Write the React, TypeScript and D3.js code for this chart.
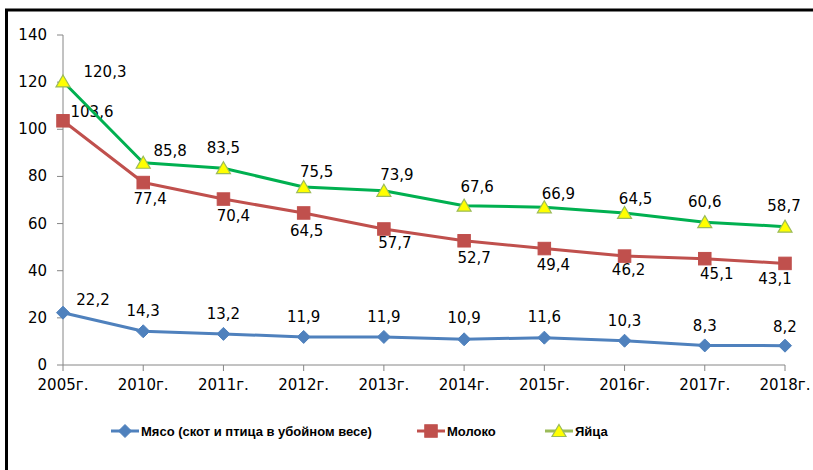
import React from "react";
import * as d3 from "d3";

const categories = ["2005г.", "2010г.", "2011г.", "2012г.", "2013г.", "2014г.", "2015г.", "2016г.", "2017г.", "2018г."];
const meat = [22.2, 14.3, 13.2, 11.9, 11.9, 10.9, 11.6, 10.3, 8.3, 8.2];
const milk = [103.6, 77.4, 70.4, 64.5, 57.7, 52.7, 49.4, 46.2, 45.1, 43.1];
const eggs = [120.3, 85.8, 83.5, 75.5, 73.9, 67.6, 66.9, 64.5, 60.6, 58.7];
const yTicks = [0, 20, 40, 60, 80, 100, 120, 140];
const seriesNames = ["Мясо (скот и птица в убойном весе)", "Молоко", "Яйца"];

// label placement offsets (px) relative to the point
const meatLabelOff: [number, number][] = [[30, -13], [0, -20], [0, -20], [0, -20], [0, -20], [0, -21], [0, -21], [0, -20], [0, -19], [0, -19]];
const milkLabelOff: [number, number][] = [[29, -9], [7, 16], [10, 17], [3, 18], [11, 14], [10, 17], [9, 16], [4, 14], [12, 15], [-10, 16]];
const eggLabelOff: [number, number][] = [[42, -9], [27, -12], [0, -20], [13, -15], [13, -16], [13, -19], [14, -13], [11, -14], [0, -20], [-1, -21]];

const fmt = (v: number) => v.toFixed(1).replace(".", ",");
const FONT = "DejaVu Sans, Verdana, sans-serif";

function Marker({ kind, x, y }: { kind: string; x: number; y: number }) {
  if (kind === "diamond") {
    const r = 6.5;
    return <path d={`M${x},${y - r}L${x + r},${y}L${x},${y + r}L${x - r},${y}Z`} fill="#4F81BD" stroke="#4F81BD" strokeWidth={1} />;
  }
  if (kind === "square") {
    const s = 12.5;
    return <rect x={x - s / 2} y={y - s / 2} width={s} height={s} fill="#C0504D" stroke="#C0504D" strokeWidth={1} />;
  }
  const w = 7, h = 6.5;
  return <path d={`M${x},${y - h}L${x + w},${y + h - 1}L${x - w},${y + h - 1}Z`} fill="#FFFF00" stroke="#9BBB59" strokeWidth={1.2} />;
}

export default function App() {
  const x = d3.scalePoint<string>().domain(categories).range([63, 785]);
  const y = d3.scaleLinear().domain([0, 140]).range([365, 35]);
  const line = d3.line<number>().x((_, i) => x(categories[i])!).y((d) => y(d));

  const series = [
    { data: meat, color: "#4F81BD", legendColor: "#4F81BD", kind: "diamond", off: meatLabelOff },
    { data: milk, color: "#C0504D", legendColor: "#C0504D", kind: "square", off: milkLabelOff },
    { data: eggs, color: "#00B050", legendColor: "#9BBB59", kind: "triangle", off: eggLabelOff },
  ];

  const legendX = [111, 417, 545];
  const legendY = 431;

  return (
    <svg width={813} height={470} style={{ position: "absolute", left: 0, top: 0, background: "#fff" }} fontFamily={FONT}>
      <rect x={0} y={0} width={813} height={470} fill="#fff" />
      <path d="M6.5,470V10H813" fill="none" stroke="#000" strokeWidth={3} />
      {/* axes */}
      <line x1={63} x2={63} y1={y(140)} y2={y(0)} stroke="#868686" strokeWidth={1} />
      <line x1={63} x2={785} y1={y(0)} y2={y(0)} stroke="#868686" strokeWidth={1} />
      {yTicks.map((t) => (
        <g key={t}>
          <line x1={57} x2={63} y1={y(t)} y2={y(t)} stroke="#868686" />
          <text x={47} y={y(t)} textAnchor="end" dominantBaseline="central" fontSize={15} fill="#000">{t}</text>
        </g>
      ))}
      {categories.map((c) => (
        <g key={c}>
          <line x1={x(c)} x2={x(c)} y1={y(0)} y2={y(0) + 6} stroke="#868686" />
          <text x={x(c)} y={385} textAnchor="middle" dominantBaseline="central" fontSize={15} fill="#000">{c}</text>
        </g>
      ))}
      {series.map((s, si) => (
        <g key={si}>
          <path d={line(s.data)!} fill="none" stroke={s.color} strokeWidth={3} strokeLinejoin="round" />
          {s.data.map((v, i) => (
            <Marker key={i} kind={s.kind} x={x(categories[i])!} y={y(v)} />
          ))}
          {s.data.map((v, i) => (
            <text key={"l" + i} x={x(categories[i])! + s.off[i][0]} y={y(v) + s.off[i][1]} textAnchor="middle" dominantBaseline="central" fontSize={15} fill="#000">
              {fmt(v)}
            </text>
          ))}
        </g>
      ))}
      {series.map((s, si) => (
        <g key={"lg" + si}>
          <line x1={legendX[si]} x2={legendX[si] + 28} y1={legendY} y2={legendY} stroke={s.legendColor} strokeWidth={3} />
          <Marker kind={s.kind} x={legendX[si] + 14} y={legendY} />
          <text x={legendX[si] + 30} y={legendY} dominantBaseline="central" fontSize={13} fontWeight="bold" fontFamily="Liberation Sans, Arial, sans-serif" fill="#000">
            {seriesNames[si]}
          </text>
        </g>
      ))}
    </svg>
  );
}
